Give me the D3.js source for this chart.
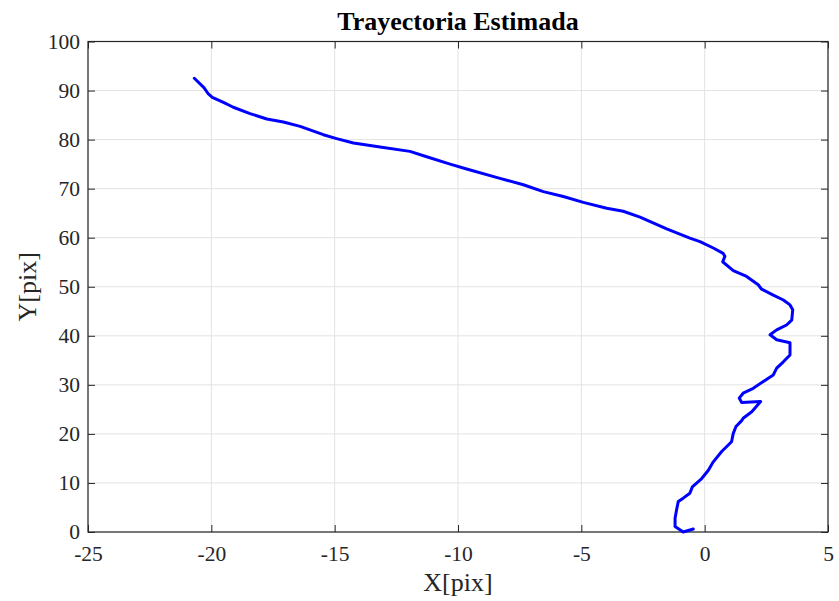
<!DOCTYPE html>
<html>
<head>
<meta charset="utf-8">
<script src="https://cdn.jsdelivr.net/npm/d3@7"></script>
<style>
  html, body { margin: 0; padding: 0; background: #fff; }
  svg { display: block; font-family: "Liberation Serif", "Times New Roman", serif; }
</style>
</head>
<body>
<svg id="chart" width="839" height="601"></svg>
<script>
// Estimated trajectory samples, from the start point near the origin to the end
const trajX = [-0.46, -0.87, -1.20, -1.20, -1.14, -1.07, -0.87, -0.60, -0.50, -0.12,
  0.15, 0.35, 0.69, 1.09, 1.16, 1.27, 1.50, 1.56, 1.91, 2.27,
  1.50, 1.40, 1.56, 1.97, 2.38, 2.78, 2.92, 3.19, 3.46, 3.46,
  2.92, 2.65, 2.92, 3.32, 3.53, 3.57, 3.46, 3.19, 2.78, 2.31,
  2.17, 1.70, 1.16, 0.73, 0.82, 0.75, 0.35, -0.19, -0.60, -1.54,
  -2.62, -3.30, -3.97, -4.92, -5.73, -6.54, -7.35, -8.30, -9.65, -10.32,
  -11.27, -11.95, -13.16, -14.24, -14.92, -15.46, -16.40, -17.08, -17.75, -18.43,
  -19.11, -19.51, -19.96, -20.12, -20.30, -20.69];
const trajY = [0.6, 0.0, 1.1, 2.8, 4.5, 6.2, 6.9, 7.9, 9.2, 10.9,
  12.6, 14.3, 16.4, 18.4, 20.1, 21.5, 22.7, 23.2, 24.5, 26.6,
  26.4, 27.3, 28.3, 29.3, 30.7, 32.0, 33.4, 34.7, 36.1, 38.6,
  39.2, 40.2, 41.2, 42.2, 43.2, 45.3, 46.3, 47.3, 48.3, 49.5,
  50.4, 52.1, 53.3, 55.1, 56.2, 56.8, 57.9, 59.2, 59.9, 61.8,
  64.2, 65.4, 66.0, 67.2, 68.4, 69.4, 70.8, 72.1, 74.0, 75.0,
  76.5, 77.6, 78.5, 79.3, 80.2, 81.0, 82.7, 83.6, 84.2, 85.3,
  86.6, 87.6, 88.6, 89.3, 90.6, 92.5];

const xTicks = [-25, -20, -15, -10, -5, 0, 5];
const yTicks = [0, 10, 20, 30, 40, 50, 60, 70, 80, 90, 100];
const titleText = "Trayectoria Estimada";
const xLabel = "X[pix]";
const yLabel = "Y[pix]";

const margin = { left: 88, right: 11, top: 41.5, bottom: 69 };
const W = 839, H = 601;
const iw = W - margin.left - margin.right;
const ih = H - margin.top - margin.bottom;

const svg = d3.select("#chart");
const g = svg.append("g").attr("transform", `translate(${margin.left},${margin.top})`);

const x = d3.scaleLinear().domain([-25, 5]).range([0, iw]);
const y = d3.scaleLinear().domain([0, 100]).range([ih, 0]);

const axisColor = "#262626";
const gridColor = "#e3e3e3";
const tickLen = 7;
const tickFont = 21.5;
const plainNumber = d => String(d); // hyphen-minus, not the typographic minus

// grid
g.append("g").selectAll("line").data(xTicks).join("line")
  .attr("x1", d => x(d)).attr("x2", d => x(d))
  .attr("y1", 0).attr("y2", ih)
  .attr("stroke", gridColor).attr("stroke-width", 1);
g.append("g").selectAll("line").data(yTicks).join("line")
  .attr("x1", 0).attr("x2", iw)
  .attr("y1", d => y(d)).attr("y2", d => y(d))
  .attr("stroke", gridColor).attr("stroke-width", 1);

// axes with inward ticks on all four sides
function styleAxis(sel) {
  sel.select(".domain").remove();
  sel.selectAll(".tick line").attr("stroke", axisColor).attr("stroke-width", 1);
  sel.selectAll(".tick text").attr("fill", axisColor)
    .style("font-family", '"Liberation Serif", "Times New Roman", serif')
    .style("font-size", tickFont + "px");
}

const xAxisB = g.append("g").attr("transform", `translate(0,${ih})`)
  .call(d3.axisBottom(x).tickValues(xTicks).tickSizeInner(-tickLen).tickSizeOuter(0)
    .tickPadding(14).tickFormat(plainNumber));
styleAxis(xAxisB);

const xAxisT = g.append("g")
  .call(d3.axisTop(x).tickValues(xTicks).tickSizeInner(-tickLen).tickSizeOuter(0).tickFormat(""));
styleAxis(xAxisT);

const yAxisL = g.append("g")
  .call(d3.axisLeft(y).tickValues(yTicks).tickSizeInner(-tickLen).tickSizeOuter(0)
    .tickPadding(8).tickFormat(plainNumber));
styleAxis(yAxisL);

const yAxisR = g.append("g").attr("transform", `translate(${iw},0)`)
  .call(d3.axisRight(y).tickValues(yTicks).tickSizeInner(-tickLen).tickSizeOuter(0).tickFormat(""));
styleAxis(yAxisR);

// box
g.append("rect").attr("x", 0).attr("y", 0).attr("width", iw).attr("height", ih)
  .attr("fill", "none").attr("stroke", axisColor).attr("stroke-width", 1.2);

// trajectory
const pts = trajX.map((v, i) => [v, trajY[i]]);
g.append("path")
  .datum(pts)
  .attr("fill", "none")
  .attr("stroke", "#0000ff")
  .attr("stroke-width", 3)
  .attr("stroke-linejoin", "round")
  .attr("stroke-linecap", "round")
  .attr("d", d3.line().x(d => x(d[0])).y(d => y(d[1])));

// title and labels
svg.append("text")
  .attr("x", margin.left + iw / 2).attr("y", 30)
  .attr("text-anchor", "middle")
  .attr("font-weight", "bold").attr("font-size", 26)
  .attr("fill", "#000")
  .text(titleText);

svg.append("text")
  .attr("x", margin.left + iw / 2).attr("y", 591)
  .attr("text-anchor", "middle")
  .attr("font-size", 26).attr("fill", axisColor)
  .text(xLabel);

svg.append("text")
  .attr("transform", `translate(36,${margin.top + ih / 2}) rotate(-90)`)
  .attr("text-anchor", "middle")
  .attr("font-size", 26).attr("fill", axisColor)
  .text(yLabel);
</script>
</body>
</html>
